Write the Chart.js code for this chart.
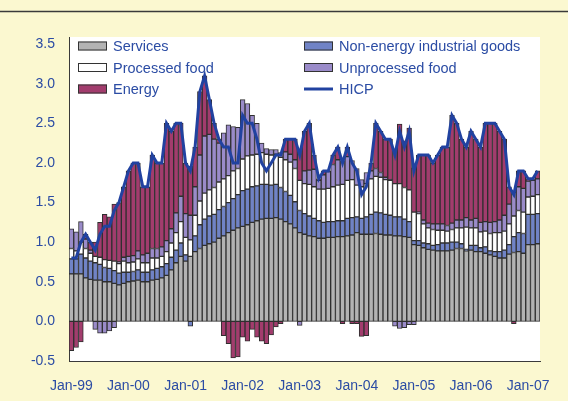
<!DOCTYPE html>
<html>
<head>
<meta charset="utf-8">
<title>HICP inflation and contributions</title>
<script src="https://cdn.jsdelivr.net/npm/chart.js"></script>
<style>
  html, body { margin: 0; padding: 0; background: #fbf8d0; }
  #wrap { width: 568px; height: 401px; }
</style>
</head>
<body>
<div id="wrap"><canvas id="hicpChart" width="568" height="401"></canvas></div>
<script>
// months Jan-99 .. Mar-07
var years = ['99', '00', '01', '02', '03', '04', '05', '06', '07'];
var monthNames = ['Jan', 'Feb', 'Mar', 'Apr', 'May', 'Jun', 'Jul', 'Aug', 'Sep', 'Oct', 'Nov', 'Dec'];
var monthsInLastYear = 3;

var tickLabels = ['Jan-99', 'Jan-00', 'Jan-01', 'Jan-02', 'Jan-03', 'Jan-04', 'Jan-05', 'Jan-06', 'Jan-07'];

// contributions, percentage points
var services = [
  0.60, 0.60, 0.60, 0.55, 0.53, 0.52, 0.52, 0.50, 0.50, 0.48, 0.46, 0.48,
  0.50, 0.51, 0.52, 0.50, 0.50, 0.52, 0.53, 0.55, 0.58, 0.65, 0.74, 0.82,
  0.76, 0.82, 0.88, 0.92, 0.96, 0.98, 1.00, 1.05, 1.08, 1.12, 1.15, 1.18,
  1.20, 1.22, 1.25, 1.27, 1.29, 1.30, 1.30, 1.31, 1.29, 1.26, 1.23, 1.18,
  1.12, 1.10, 1.08, 1.07, 1.05, 1.05, 1.06, 1.06, 1.07, 1.07, 1.08, 1.09,
  1.12, 1.10, 1.10, 1.10, 1.11, 1.10, 1.09, 1.09, 1.08, 1.08, 1.07, 1.06,
  0.97, 0.96, 0.93, 0.91, 0.90, 0.89, 0.89, 0.89, 0.90, 0.92, 0.92, 0.89,
  0.90, 0.88, 0.88, 0.86, 0.84, 0.82, 0.80, 0.80, 0.85, 0.87, 0.88, 0.86,
  0.97, 0.97, 0.98
];
var nonEnergyGoods = [
  0.19, 0.19, 0.25, 0.25, 0.23, 0.22, 0.20, 0.18, 0.17, 0.16, 0.15, 0.14,
  0.12, 0.12, 0.13, 0.12, 0.12, 0.13, 0.14, 0.14, 0.15, 0.16, 0.16, 0.17,
  0.08, -0.06, 0.20, 0.30, 0.33, 0.35, 0.35, 0.36, 0.37, 0.38, 0.40, 0.42,
  0.45, 0.45, 0.45, 0.44, 0.44, 0.43, 0.42, 0.42, 0.40, 0.38, 0.36, 0.33,
  0.28, 0.26, 0.25, 0.23, 0.22, 0.20, 0.20, 0.20, 0.20, 0.20, 0.22, 0.22,
  0.20, 0.20, 0.22, 0.25, 0.27, 0.27, 0.26, 0.25, 0.24, 0.24, 0.22, 0.20,
  0.05, 0.06, 0.06, 0.07, 0.06, 0.08, 0.10, 0.10, 0.10, 0.08, 0.06, 0.02,
  0.06, 0.08, 0.05, 0.08, 0.05, 0.06, 0.08, 0.10, 0.12, 0.20, 0.24, 0.25,
  0.38, 0.38, 0.38
];
var processedFood = [
  0.13, 0.10, 0.15, 0.12, 0.10, 0.08, 0.09, 0.10, 0.10, 0.12, 0.12, 0.14,
  0.12, 0.12, 0.14, 0.12, 0.12, 0.15, 0.13, 0.13, 0.15, 0.18, 0.22, 0.27,
  0.22, 0.21, 0.26, 0.30, 0.33, 0.33, 0.34, 0.35, 0.35, 0.34, 0.35, 0.33,
  0.40, 0.42, 0.40, 0.40, 0.40, 0.38, 0.38, 0.38, 0.38, 0.40, 0.42, 0.42,
  0.38, 0.38, 0.40, 0.40, 0.40, 0.42, 0.42, 0.44, 0.45, 0.46, 0.48, 0.48,
  0.40, 0.40, 0.42, 0.45, 0.45, 0.45, 0.44, 0.44, 0.42, 0.42, 0.40, 0.40,
  0.36, 0.34, 0.24, 0.20, 0.20, 0.18, 0.16, 0.15, 0.16, 0.18, 0.20, 0.28,
  0.22, 0.22, 0.20, 0.20, 0.22, 0.24, 0.24, 0.24, 0.26, 0.26, 0.28, 0.27,
  0.22, 0.23, 0.24
];
var unprocessedFood = [
  0.25, 0.24, 0.26, 0.12, 0.04, -0.10, -0.15, -0.15, -0.12, -0.08, 0.02, 0.05,
  0.08, 0.08, 0.10, 0.10, 0.12, 0.12, 0.12, 0.12, 0.14, 0.18, 0.25, 0.32,
  0.30, 0.31, 0.36, 0.58, 0.72, 0.70, 0.61, 0.49, 0.58, 0.64, 0.56, 0.52,
  0.75, 0.66, 0.50, 0.39, 0.12, 0.07, 0.07, 0.06, 0.06, 0.10, 0.10, 0.11,
  -0.05, 0.16, 0.18, 0.22, 0.11, 0.18, 0.21, 0.28, 0.32, 0.30, 0.30, 0.24,
  0.21, 0.09, 0.14, 0.10, 0.10, 0.06, 0.03, 0.01, -0.06, -0.09, -0.08, -0.04,
  -0.04, 0.02, 0.05, 0.06, 0.07, 0.08, 0.08, 0.07, 0.08, 0.10, 0.10, 0.12,
  0.10, 0.12, 0.12, 0.12, 0.14, 0.14, 0.16, 0.20, 0.25, 0.30, 0.30, 0.30,
  0.20, 0.20, 0.20
];
var energy = [
  -0.37, -0.33, -0.26, 0.06, 0.10, 0.18, 0.44, 0.57, 0.55, 0.72, 0.75, 0.89,
  1.08, 1.17, 1.11, 0.86, 0.84, 1.18, 1.08, 1.06, 1.48, 1.23, 1.13, 0.92,
  0.64, 0.62, 0.50, 0.80, 0.76, 0.44, 0.20, 0.05, -0.18, -0.28, -0.46, -0.45,
  -0.20, -0.25, -0.10, -0.20, -0.25, -0.28, -0.17, -0.07, -0.03, 0.16, 0.19, 0.26,
  0.37, 0.50, 0.59, 0.18, 0.02, 0.05, 0.01, 0.12, 0.16, -0.03, 0.12, -0.03,
  -0.03, -0.19, -0.18, 0.10, 0.57, 0.52, 0.48, 0.51, 0.42, 0.75, 0.59, 0.78,
  0.56, 0.72, 0.82, 0.86, 0.77, 0.87, 0.97, 0.99, 1.36, 1.22, 1.02, 0.89,
  1.12, 1.00, 0.95, 1.24, 1.25, 1.24, 1.12, 0.96, 0.22, -0.03, 0.20, 0.22,
  0.03, 0.02, 0.10
];
// annual rate, %
var hicp = [
  0.8, 0.8, 1.0, 1.1, 1.0, 0.9, 1.1, 1.2, 1.2, 1.4, 1.5, 1.7,
  1.9, 2.0, 2.0, 1.7, 1.7, 2.1, 2.0, 2.0, 2.5, 2.4, 2.5, 2.5,
  2.0, 1.9, 2.2, 2.9, 3.1, 2.8, 2.5, 2.3, 2.2, 2.2, 2.0, 2.0,
  2.6, 2.5, 2.5, 2.3, 2.0, 1.9, 2.0, 2.1, 2.1, 2.3, 2.3, 2.3,
  2.1, 2.4, 2.5, 2.1, 1.8, 1.9, 1.9, 2.1, 2.2, 2.0, 2.2, 2.0,
  1.9, 1.6, 1.7, 2.0, 2.5, 2.4, 2.3, 2.3, 2.1, 2.4, 2.2, 2.4,
  1.9, 2.1, 2.1, 2.1, 2.0, 2.1, 2.2, 2.2, 2.6, 2.5, 2.3, 2.2,
  2.4, 2.3, 2.2, 2.5, 2.5, 2.5, 2.4, 2.3, 1.7, 1.6, 1.9, 1.9,
  1.8, 1.8, 1.9
];

var categories = [];
years.forEach(function(yr, k){
	var n = (k == years.length - 1) ? monthsInLastYear : 12;
	for (var m = 0; m < n; m++) categories.push(monthNames[m] + '-' + yr);
});

var textBlue = '#2b4ca4';
Chart.defaults.font.family = "'Liberation Sans', Arial, sans-serif";
Chart.defaults.font.size = 14;
Chart.defaults.color = textBlue;

// yellow page, rule at the top, white plot area
var backdrop = {
	id: 'backdrop',
	beforeDraw: function(chart){
		var ctx = chart.ctx, a = chart.chartArea;
		ctx.save();
		ctx.fillStyle = '#fbf8d0';
		ctx.fillRect(0, 0, chart.width, chart.height);
		ctx.fillStyle = '#ffffff';
		ctx.fillRect(a.left, a.top, a.right - a.left, a.bottom - a.top);
		ctx.strokeStyle = '#3a3a3a';
		ctx.lineWidth = 1.5;
		ctx.beginPath();
		ctx.moveTo(0, 11.5);
		ctx.lineTo(chart.width, 11.5);
		ctx.stroke();
		ctx.restore();
	}
};

// two-column legend inside the plot
var legendGrid = {
	id: 'legendGrid',
	afterDatasetsDraw: function(chart){
		var ctx = chart.ctx;
		ctx.save();
		ctx.font = "14.5px 'Liberation Sans', Arial, sans-serif";
		ctx.textBaseline = 'middle';
		chart.data.datasets.forEach(function(ds, i){
			var col = i % 2, row = Math.floor(i / 2);
			var x = col ? 304 : 78;
			var y = 46 + row * 21.5;
			if (ds.type == 'line') {
				ctx.strokeStyle = ds.borderColor;
				ctx.lineWidth = 3;
				ctx.beginPath();
				ctx.moveTo(x, y);
				ctx.lineTo(x + 29, y);
				ctx.stroke();
			} else {
				ctx.fillStyle = ds.backgroundColor;
				ctx.fillRect(x, y - 4.5, 29, 9);
				ctx.strokeStyle = '#333333';
				ctx.lineWidth = 1;
				ctx.strokeRect(x + 0.5, y - 4, 28, 8);
			}
			ctx.fillStyle = textBlue;
			ctx.fillText(ds.label, x + 35, y + 1);
		});
		ctx.restore();
	}
};

var barSet = function(label, data, color){
	return {
		type: 'bar',
		label: label,
		data: data,
		stack: 'parts',
		order: 1,
		backgroundColor: color,
		borderColor: '#2f2f2f',
		borderWidth: 1,
		borderSkipped: false,
		barPercentage: 1.0,
		categoryPercentage: 1.0
	};
};

new Chart(document.getElementById('hicpChart'), {
	data: {
		labels: categories,
		datasets: [
			barSet('Services', services, '#b3b3b3'),
			barSet('Non-energy industrial goods', nonEnergyGoods, '#7083c6'),
			barSet('Processed food', processedFood, '#ffffff'),
			barSet('Unprocessed food', unprocessedFood, '#9a8bc9'),
			barSet('Energy', energy, '#a23c6d'),
			{
				type: 'line',
				label: 'HICP',
				data: hicp,
				stack: 'hicp',
				order: 0,
				borderColor: '#2142a0',
				borderWidth: 3,
				pointRadius: 0,
				tension: 0,
				fill: false
			}
		]
	},
	options: {
		responsive: false,
		animation: false,
		devicePixelRatio: 1,
		layout: { padding: { left: 0, right: 28, top: 37, bottom: 0 } },
		plugins: {
			legend: { display: false },
			tooltip: { enabled: false }
		},
		scales: {
			x: {
				stacked: true,
				grid: { display: false, drawTicks: false },
				border: { display: true, color: '#3a3a3a', width: 1 },
				ticks: {
					autoSkip: false,
					maxRotation: 0,
					padding: 17,
					callback: function(val, idx){
						var lab = categories[idx];
						return tickLabels.indexOf(lab) >= 0 ? lab : null;
					}
				},
				afterFit: function(scale){ scale.height = 40; }
			},
			y: {
				stacked: true,
				min: -0.5,
				max: 3.59,
				grid: { display: false, drawTicks: false },
				border: { display: true, color: '#3a3a3a', width: 1 },
				ticks: {
					stepSize: 0.5,
					includeBounds: false,
					padding: 14,
					callback: function(v){ return v.toFixed(1); }
				},
				afterFit: function(scale){ scale.width = 69; }
			}
		}
	},
	plugins: [backdrop, legendGrid]
});
</script>
</body>
</html>
